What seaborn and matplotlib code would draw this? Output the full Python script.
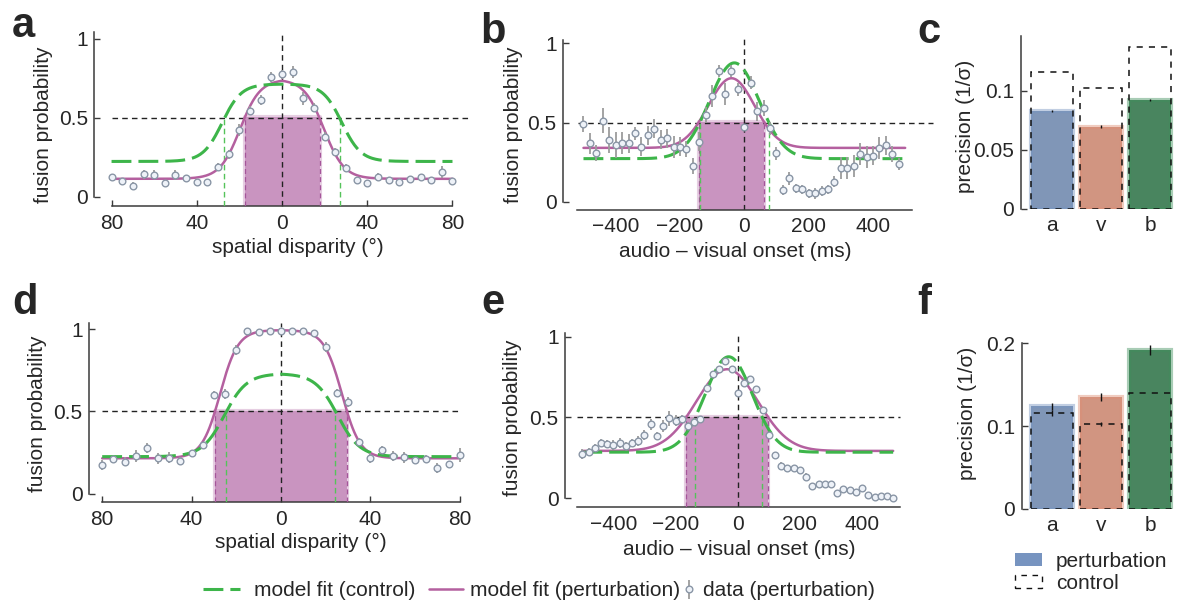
import numpy as np
import pandas as pd
import matplotlib
matplotlib.use("Agg")
import matplotlib.pyplot as plt
import seaborn as sns
from matplotlib.lines import Line2D
from matplotlib.patches import Patch
from matplotlib.legend_handler import HandlerErrorbar

# ------------------------------------------------------------------ data
spatial_x = list(range(-80, 81, 5))
a_data = [0.128, 0.101, 0.072, 0.143, 0.141, 0.087, 0.139, 0.118, 0.097, 0.093,
          0.192, 0.270, 0.424, 0.546, 0.614, 0.760, 0.776, 0.789, 0.624, 0.565,
          0.382, 0.287, 0.181, 0.108, 0.091, 0.128, 0.108, 0.097, 0.113, 0.124,
          0.108, 0.160, 0.101]
a_err = [0.018, 0.018, 0.020, 0.030, 0.030, 0.020, 0.030, 0.020, 0.018, 0.020,
         0.025, 0.030, 0.035, 0.030, 0.030, 0.030, 0.030, 0.037, 0.040, 0.030,
         0.030, 0.025, 0.025, 0.020, 0.018, 0.025, 0.020, 0.018, 0.020, 0.020,
         0.020, 0.037, 0.018]
d_data = [0.175, 0.209, 0.195, 0.229, 0.276, 0.215, 0.219, 0.199, 0.246, 0.296,
          0.600, 0.606, 0.874, 0.990, 0.982, 0.990, 0.990, 0.990, 0.990, 0.980,
          0.890, 0.610, 0.560, 0.316, 0.215, 0.266, 0.229, 0.221, 0.205, 0.209,
          0.158, 0.180, 0.235]
d_err = [0.030, 0.015, 0.025, 0.035, 0.030, 0.035, 0.035, 0.025, 0.020, 0.020,
         0.025, 0.030, 0.030, 0.008, 0.008, 0.008, 0.010, 0.008, 0.008, 0.010,
         0.030, 0.025, 0.030, 0.025, 0.030, 0.025, 0.030, 0.035, 0.020, 0.025,
         0.030, 0.020, 0.040]

b_x = list(range(-500, 481, 20))
b_data = [0.491, 0.369, 0.310, 0.512, 0.390, 0.358, 0.369, 0.369, 0.432, 0.347,
          0.421, 0.461, 0.390, 0.400, 0.343, 0.347, 0.331, 0.225, 0.379, 0.548,
          0.668, 0.826, 0.678, 0.826, 0.710, 0.474, 0.752, 0.573, 0.590, 0.464,
          0.306, 0.074, 0.148, 0.085, 0.078, 0.053, 0.053, 0.069, 0.078, 0.126,
          0.215, 0.215, 0.225, 0.301, 0.284, 0.290, 0.337, 0.358, 0.301, 0.238]
b_err = [0.050, 0.065, 0.050, 0.080, 0.080, 0.080, 0.070, 0.060, 0.040, 0.060,
         0.060, 0.060, 0.060, 0.060, 0.070, 0.060, 0.050, 0.050, 0.060, 0.050,
         0.070, 0.040, 0.070, 0.040, 0.040, 0.020, 0.040, 0.060, 0.050, 0.040,
         0.040, 0.030, 0.040, 0.030, 0.030, 0.030, 0.035, 0.030, 0.030, 0.035,
         0.070, 0.070, 0.070, 0.070, 0.070, 0.060, 0.070, 0.060, 0.050, 0.040]

e_x = list(range(-500, 501, 20))
e_data = [0.275, 0.288, 0.313, 0.340, 0.334, 0.330, 0.344, 0.323, 0.340, 0.356,
          0.391, 0.458, 0.387, 0.447, 0.495, 0.480, 0.490, 0.447, 0.474, 0.490,
          0.684, 0.767, 0.798, 0.851, 0.798, 0.649, 0.711, 0.736, 0.674, 0.546,
          0.391, 0.268, 0.202, 0.190, 0.186, 0.175, 0.134, 0.078, 0.086, 0.086,
          0.086, 0.035, 0.056, 0.051, 0.041, 0.062, 0.020, 0.010, 0.016, 0.016,
          0.004]
e_err = [0.030, 0.025, 0.025, 0.025, 0.025, 0.030, 0.030, 0.025, 0.025, 0.030,
         0.030, 0.035, 0.025, 0.035, 0.045, 0.035, 0.025, 0.025, 0.020, 0.020,
         0.020, 0.020, 0.015, 0.015, 0.015, 0.015, 0.015, 0.015, 0.015, 0.015,
         0.015, 0.015, 0.020, 0.015, 0.015, 0.015, 0.020, 0.015, 0.015, 0.015,
         0.015, 0.010, 0.015, 0.015, 0.015, 0.015, 0.010, 0.010, 0.010, 0.010,
         0.010]

# model-fit parameters
# spatial: base + amp / (1 + exp((|x| - c) / w))
a_fit_pert = dict(base=0.115, amp=0.630, c=19.7, w=4.7)
a_fit_ctrl = dict(base=0.225, amp=0.490, c=28.1, w=4.5)
d_fit_pert = dict(base=0.215, amp=0.780, c=27.3, w=4.05)
d_fit_ctrl = dict(base=0.225, amp=0.505, c=25.3, w=5.0)
# temporal: base + amp * exp(-0.5 ((x - mu) / s)^2)
b_fit_pert = dict(base=0.340, amp=0.440, mu=-40, s=72)
b_fit_ctrl = dict(base=0.272, amp=0.605, mu=-31, s=77)
e_fit_pert = dict(base=0.293, amp=0.505, mu=-34, s=99)
e_fit_ctrl = dict(base=0.285, amp=0.590, mu=-29, s=76)

# 50 % fusion windows (perturbation shaded, control green)
a_win_pert, a_win_ctrl = (-17.6, 17.6), (-27.0, 27.0)
d_win_pert, d_win_ctrl = (-29.5, 29.5), (-24.4, 24.4)
b_win_pert, b_win_ctrl = (-142, 62), (-139, 77)
e_win_pert, e_win_ctrl = (-166, 98), (-137, 79)

# precision bars
cues = ["a", "v", "b"]
c_pert = [0.083, 0.0696, 0.092]
c_pert_err = [0.001, 0.001, 0.001]
c_ctrl = [0.116, 0.102, 0.137]
f_pert = [0.124, 0.1357, 0.192]
f_pert_err = [0.004, 0.005, 0.006]
f_ctrl = [0.116, 0.1027, 0.1405]
f_ctrl_err = [0.004, 0.003, 0.0]

spatial_ticks = [-80, -40, 0, 40, 80]
spatial_ticklabels = ["80", "40", "0", "40", "80"]
time_ticks = [-400, -200, 0, 200, 400]
time_ticklabels = ["\u2212400", "\u2212200", "0", "200", "400"]
prob_ticks = [0, 0.5, 1]
prob_ticklabels = ["0", "0.5", "1"]

# ------------------------------------------------------------------ style
sns.set_style("ticks")
plt.rcParams["font.family"] = ["Liberation Sans", "DejaVu Sans"]
plt.rcParams["font.size"] = 15
plt.rcParams["axes.linewidth"] = 1.0

MAG = "#B4609F"
GRN = "#3DB54A"
GRN_THIN = "#55C35A"
RECT = "#C994C0"
MARK_EDGE = "#8A96A6"
ERRC = "#9C9C9C"
SPINE = "#3A3A3A"
BAR_COLORS = ["#7794C0", "#DE8E74", "#3F8F5C"]

W, H = 1178, 603
fig = plt.figure(figsize=(W / 100, H / 100), dpi=100)


def add_axes(l, r, t, b):
    return fig.add_axes([l / W, 1 - b / H, (r - l) / W, (b - t) / H])


def plateau(x, base, amp, c, w):
    return base + amp / (1 + np.exp((np.abs(x) - c) / w))


def bump(x, base, amp, mu, s):
    return base + amp * np.exp(-0.5 * ((x - mu) / s) ** 2)


def fusion_panel(ax, x, y, err, xfit, f_pert, f_ctrl, win_p, win_c,
                 xlim, ylim, ybound, xbound, hline, vtop):
    ax.set_xlim(*xlim)
    ax.set_ylim(*ylim)
    y0 = ylim[0]
    ax.fill_between(list(win_p), [y0, y0], [0.505, 0.505], color=RECT, lw=0, zorder=1)
    ax.fill_between(list(win_p), [y0, y0], [0.505, 0.505], facecolor="none",
                    edgecolor=RECT, lw=3, alpha=0.45, zorder=1)
    ax.plot(list(hline), [0.5, 0.5], color="#222222", lw=1.0, dashes=(4, 3),
            zorder=2.5, clip_on=False)
    ax.plot([0, 0], [y0, vtop], color="#222222", lw=1.0, dashes=(4, 3), zorder=2.5)
    for xv in win_p:
        ax.plot([xv, xv], [y0, 0.5], color="#A5559A", lw=0.9, dashes=(4, 2.5), zorder=2.6)
    for xv in win_c:
        ax.plot([xv, xv], [y0, 0.5], color=GRN_THIN, lw=1.0, dashes=(4, 2.5), zorder=2.6)
    sns.lineplot(x=xfit, y=f_pert, ax=ax, color=MAG, lw=1.8, estimator=None,
                 sort=False, zorder=3)
    sns.lineplot(x=xfit, y=f_ctrl, ax=ax, color=GRN, lw=2.2, estimator=None,
                 sort=False, zorder=3.5)
    ax.lines[-1].set_dashes((6.5, 2.3))
    eb = ax.errorbar(x, y, yerr=err, fmt="o", ms=4.8, mfc="#EEF2F8", mec=MARK_EDGE,
                     mew=1.0, ecolor=ERRC, elinewidth=1.3, capsize=0, zorder=4)
    sns.despine(ax=ax)
    ax.spines["left"].set_bounds(*ybound)
    ax.spines["bottom"].set_bounds(*xbound)
    for s in ("left", "bottom"):
        ax.spines[s].set_color(SPINE)
        ax.spines[s].set_linewidth(1.1)
    ax.set_yticks(prob_ticks)
    ax.set_yticklabels(prob_ticklabels)
    ax.set_ylabel("fusion probability", fontsize=15)
    ax.tick_params(axis="y", direction="in", length=4, width=1, labelsize=15,
                   pad=4.5, color=SPINE)
    return eb


# ---------------------------------------------------------------- panel a
xs = np.linspace(-80, 80, 401)
ax_a = add_axes(94.5, 467.4, 31.1, 206.0)
eb_handle = fusion_panel(ax_a, spatial_x, a_data, a_err, xs,
                         plateau(xs, **a_fit_pert), plateau(xs, **a_fit_ctrl),
                         a_win_pert, a_win_ctrl, (-88, 87), (-0.057, 1.05),
                         (0, 1.045), (-80, 80), (-80, 87.5), 1.045)
ax_a.set_xticks(spatial_ticks)
ax_a.set_xticklabels(spatial_ticklabels)
ax_a.tick_params(axis="x", direction="in", length=4, width=1, labelsize=15, pad=6,
                 color=SPINE)
ax_a.set_xlabel("spatial disparity (\u00b0)", fontsize=15)
ax_a.yaxis.set_label_coords(-0.111, 0.463)
ax_a.xaxis.set_label_coords(0.546, -0.18)

# ---------------------------------------------------------------- panel d
ax_d = add_axes(88.8, 464.2, 322.7, 501.7)
fusion_panel(ax_d, spatial_x, d_data, d_err, xs,
             plateau(xs, **d_fit_pert), plateau(xs, **d_fit_ctrl),
             d_win_pert, d_win_ctrl, (-86, 82), (-0.049, 1.04),
             (0, 1.036), (-80, 80), (-80, 80), 1.036)
ax_d.set_xticks(spatial_ticks)
ax_d.set_xticklabels(spatial_ticklabels)
ax_d.tick_params(axis="x", direction="in", length=4, width=1, labelsize=15, pad=6,
                 color=SPINE)
ax_d.set_xlabel("spatial disparity (\u00b0)", fontsize=15)
ax_d.yaxis.set_label_coords(-0.112, 0.49)
ax_d.xaxis.set_label_coords(0.565, -0.175)

# ---------------------------------------------------------------- panel b
xt = np.linspace(-500, 500, 501)
ax_b = add_axes(562.9, 911.6, 35.5, 210.1)
fusion_panel(ax_b, b_x, b_data, b_err, xt,
             bump(xt, **b_fit_pert), bump(xt, **b_fit_ctrl),
             b_win_pert, b_win_ctrl, (-564, 520), (-0.053, 1.05),
             (0, 1.02), (-520, 520), (-518, 587), 1.05)
ax_b.set_xticks(time_ticks)
ax_b.set_xticklabels(time_ticklabels)
ax_b.tick_params(axis="x", direction="in", length=0, labelsize=15, pad=5)
ax_b.set_xlabel("audio \u2013 visual onset (ms)", fontsize=15)
ax_b.yaxis.set_label_coords(-0.114, 0.487)
ax_b.xaxis.set_label_coords(0.4935, -0.185)

# ---------------------------------------------------------------- panel e
ax_e = add_axes(564.9, 900.0, 331.7, 506.7)
fusion_panel(ax_e, e_x, e_data, e_err, xt,
             bump(xt, **e_fit_pert), bump(xt, **e_fit_ctrl),
             e_win_pert, e_win_ctrl, (-556, 522), (-0.052, 1.03),
             (0, 1.02), (-518, 522), (-518, 522), 1.03)
ax_e.set_xticks(time_ticks)
ax_e.set_xticklabels(time_ticklabels)
ax_e.tick_params(axis="x", direction="in", length=0, labelsize=15, pad=6)
ax_e.set_xlabel("audio \u2013 visual onset (ms)", fontsize=15)
ax_e.yaxis.set_label_coords(-0.129, 0.507)
ax_e.xaxis.set_label_coords(0.52, -0.19)


# ------------------------------------------------------------ bar panels
def precision_panel(ax, pert, pert_err, ctrl, ctrl_err, ylim, ybound, yticks, yticklabels):
    df = pd.DataFrame({"cue": cues, "pert": pert, "ctrl": ctrl})
    sns.barplot(data=df, x="cue", y="pert", hue="cue", palette=BAR_COLORS,
                width=0.84, errorbar=None, legend=False, ax=ax, zorder=1)
    for p, col in zip(ax.patches, BAR_COLORS):
        rgba = matplotlib.colors.to_rgba(col)
        p.set_edgecolor((rgba[0], rgba[1], rgba[2], 0.45))
        p.set_linewidth(3)
    n0 = len(ax.patches)
    sns.barplot(data=df, x="cue", y="ctrl", color="k", fill=False, width=0.84,
                errorbar=None, ax=ax, zorder=2)
    for p in ax.patches[n0:]:
        p.set_facecolor("none")
        p.set_edgecolor("#111111")
        p.set_linewidth(1.1)
        p.set_linestyle((0, (4, 4)))
    xpos = list(range(len(cues)))
    ax.errorbar(xpos, pert, yerr=pert_err, fmt="none", ecolor="#111111",
                elinewidth=1.0, capsize=0, zorder=3)
    if ctrl_err is not None:
        ax.errorbar(xpos, ctrl, yerr=ctrl_err, fmt="none", ecolor="#111111",
                    elinewidth=1.0, capsize=0, zorder=3)
    ax.set_ylim(*ylim)
    sns.despine(ax=ax, bottom=True)
    ax.spines["left"].set_bounds(*ybound)
    ax.spines["left"].set_color(SPINE)
    ax.spines["left"].set_linewidth(1.1)
    ax.set_yticks(yticks)
    ax.set_yticklabels(yticklabels)
    ax.set_xlabel("")
    ax.set_ylabel("precision (1/\u03c3)", fontsize=15)
    ax.tick_params(axis="y", direction="in", length=4, width=1, labelsize=15, pad=4.5,
                   color=SPINE)
    ax.tick_params(axis="x", length=0, labelsize=15, pad=5)


ax_c = add_axes(1020.6, 1174.5, 36.3, 209.0)
precision_panel(ax_c, c_pert, c_pert_err, c_ctrl, None, (0, 0.146), (0, 0.146),
                [0, 0.05, 0.1], ["0", "0.05", "0.1"])
ax_c.set_xlim(-0.64, 2.5)
ax_c.yaxis.set_label_coords(-0.296, 0.476)

ax_f = add_axes(1021.6, 1174.5, 339.3, 509.0)
precision_panel(ax_f, f_pert, f_pert_err, f_ctrl, f_ctrl_err, (0, 0.205), (0, 0.2),
                [0, 0.1, 0.2], ["0", "0.1", "0.2"])
ax_f.set_xlim(-0.62, 2.5)
ax_f.yaxis.set_label_coords(-0.293, 0.566)

# ------------------------------------------------------------ panel letters
for letter, (px, py) in {"a": (12, 36.7), "b": (480, 43.3), "c": (917, 43.3),
                         "d": (12, 314), "e": (481, 314), "f": (917, 314)}.items():
    fig.text(px / W, 1 - py / H, letter, fontsize=30, fontweight="bold",
             ha="left", va="baseline")

# ------------------------------------------------------------ legends
ly = 1 - 591 / H
h_ctrl = Line2D([], [], color=GRN, lw=2.2, dashes=(6.5, 2.3))
h_pert = Line2D([], [], color=MAG, lw=1.8)
common = dict(frameon=False, borderpad=0, borderaxespad=0, fontsize=15, loc="center left")
fig.legend([h_ctrl], ["model fit (control)"], bbox_to_anchor=(203 / W, ly),
           handlelength=1.78, handletextpad=0.67, **common)
fig.legend([h_pert], ["model fit (perturbation)"], bbox_to_anchor=(429 / W, ly),
           handlelength=1.63, handletextpad=0.34, **common)
fig.legend([eb_handle], ["data (perturbation)"], bbox_to_anchor=(684 / W, ly),
           handlelength=0.48, handletextpad=0.41,
           handler_map={type(eb_handle): HandlerErrorbar(yerr_size=0.45)}, **common)

fig.legend([Patch(facecolor=BAR_COLORS[0], edgecolor="none"),
            Patch(facecolor="none", edgecolor="#111111", linestyle=(0, (4, 4)), lw=1.0)],
           ["perturbation", "control"], loc="upper left",
           bbox_to_anchor=(1015 / W, 1 - 552 / H), frameon=False, borderpad=0,
           borderaxespad=0, fontsize=15, handlelength=1.3, handleheight=0.55,
           handletextpad=0.67, labelspacing=0.15)

fig.savefig("out.png", dpi=100)
